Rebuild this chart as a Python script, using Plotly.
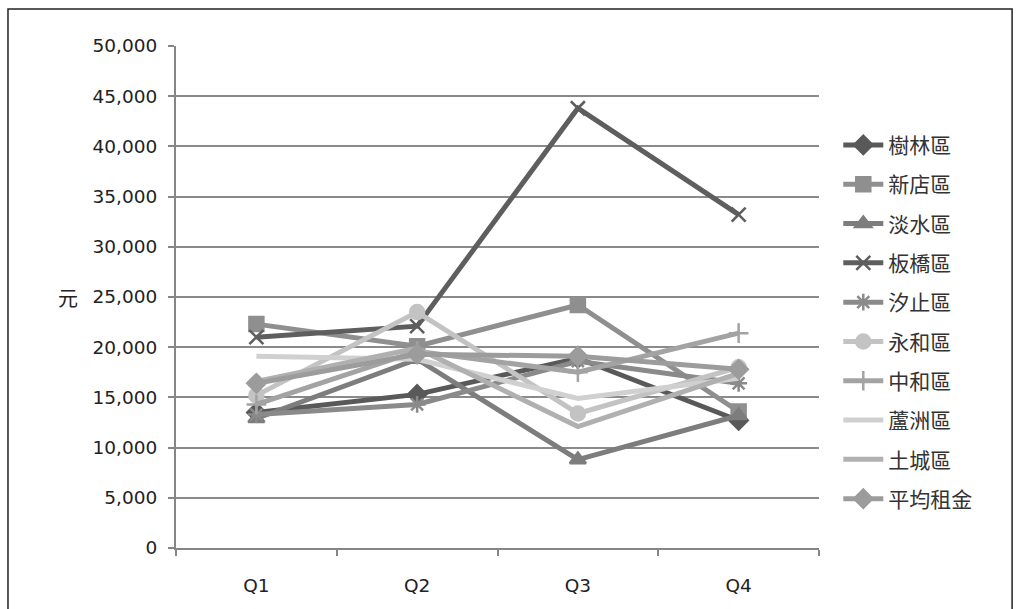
import plotly.graph_objects as go

quarters = ["Q1", "Q2", "Q3", "Q4"]

# 各區每季平均租金（元）
shulin = [13500, 15300, 18900, 12700]
xindian = [22300, 20100, 24200, 13600]
danshui = [12900, 18800, 8800, 13200]
banqiao = [21000, 22100, 43800, 33200]
xizhi = [13300, 14300, 18600, 16400]
yonghe = [15200, 23500, 13400, 18000]
zhonghe = [14300, 19600, 17500, 21400]
luzhou = [19100, 18800, 14900, 16900]
tucheng = [16600, 19900, 12100, 17400]
average = [16400, 19300, 19100, 17800]

series = [
    ("樹林區", shulin, "#595959", "diamond"),
    ("新店區", xindian, "#8f8f8f", "square"),
    ("淡水區", danshui, "#7d7d7d", "triangle-up"),
    ("板橋區", banqiao, "#5e5e5e", "x-thin-open"),
    ("汐止區", xizhi, "#8a8a8a", "asterisk-open"),
    ("永和區", yonghe, "#c3c3c3", "circle"),
    ("中和區", zhonghe, "#a3a3a3", "cross-thin-open"),
    ("蘆洲區", luzhou, "#d0d0d0", None),
    ("土城區", tucheng, "#b0b0b0", None),
    ("平均租金", average, "#9c9c9c", "diamond"),
]

fig = go.Figure()
for i, (name, vals, color, sym) in enumerate(series):
    if sym is None:
        mode = "lines"
        marker = dict()
    else:
        mode = "lines+markers"
        marker = dict(symbol=sym, size=14, color=color,
                      line=dict(color=color, width=2.5))
    fig.add_trace(go.Scatter(
        x=quarters, y=vals, name=name, mode=mode,
        line=dict(color=color, width=5),
        marker=marker, legendgroup=f"g{i}",
    ))

cjk = "Noto Sans CJK TC"
tickfont = dict(family="DejaVu Sans", size=18.5, color="#222222")

fig.update_layout(
    width=1023, height=609,
    margin=dict(l=176, r=204, t=46, b=61),
    paper_bgcolor="white", plot_bgcolor="white",
    font=dict(family="DejaVu Sans", size=18, color="#222222"),
    showlegend=True,
    legend=dict(
        x=1.03, y=0.843, xanchor="left", yanchor="top",
        font=dict(family=cjk, size=21, color="#333333"),
        tracegroupgap=9, itemwidth=40,
        bgcolor="rgba(0,0,0,0)",
    ),
    xaxis=dict(
        type="category", range=[-0.5, 3.5],
        showgrid=False, showline=True, linecolor="#868686", linewidth=2,
        ticks="outside", tickson="boundaries", ticklen=6,
        tickcolor="#868686", tickwidth=2,
        ticklabelstandoff=20,
        tickfont=tickfont,
    ),
    yaxis=dict(
        range=[0, 50000], dtick=5000, tickformat=",",
        showgrid=True, gridcolor="#8a8a8a", gridwidth=2,
        showline=True, linecolor="#868686", linewidth=2,
        ticks="outside", ticklen=6, tickcolor="#868686", tickwidth=2,
        ticklabelstandoff=7,
        zeroline=False,
        tickfont=tickfont,
    ),
    annotations=[
        dict(text="元", xref="paper", yref="y", x=-0.168, y=25000,
             xanchor="center", yanchor="middle", showarrow=False,
             font=dict(family=cjk, size=20, color="#222222")),
    ],
    shapes=[
        dict(type="rect", xref="paper", yref="paper",
             x0=-0.2613, x1=1.3003, y0=-0.14, y1=1.0737,
             line=dict(color="#222222", width=1.5), fillcolor="rgba(0,0,0,0)",
             layer="below"),
    ],
)

fig.write_html("out.html")
